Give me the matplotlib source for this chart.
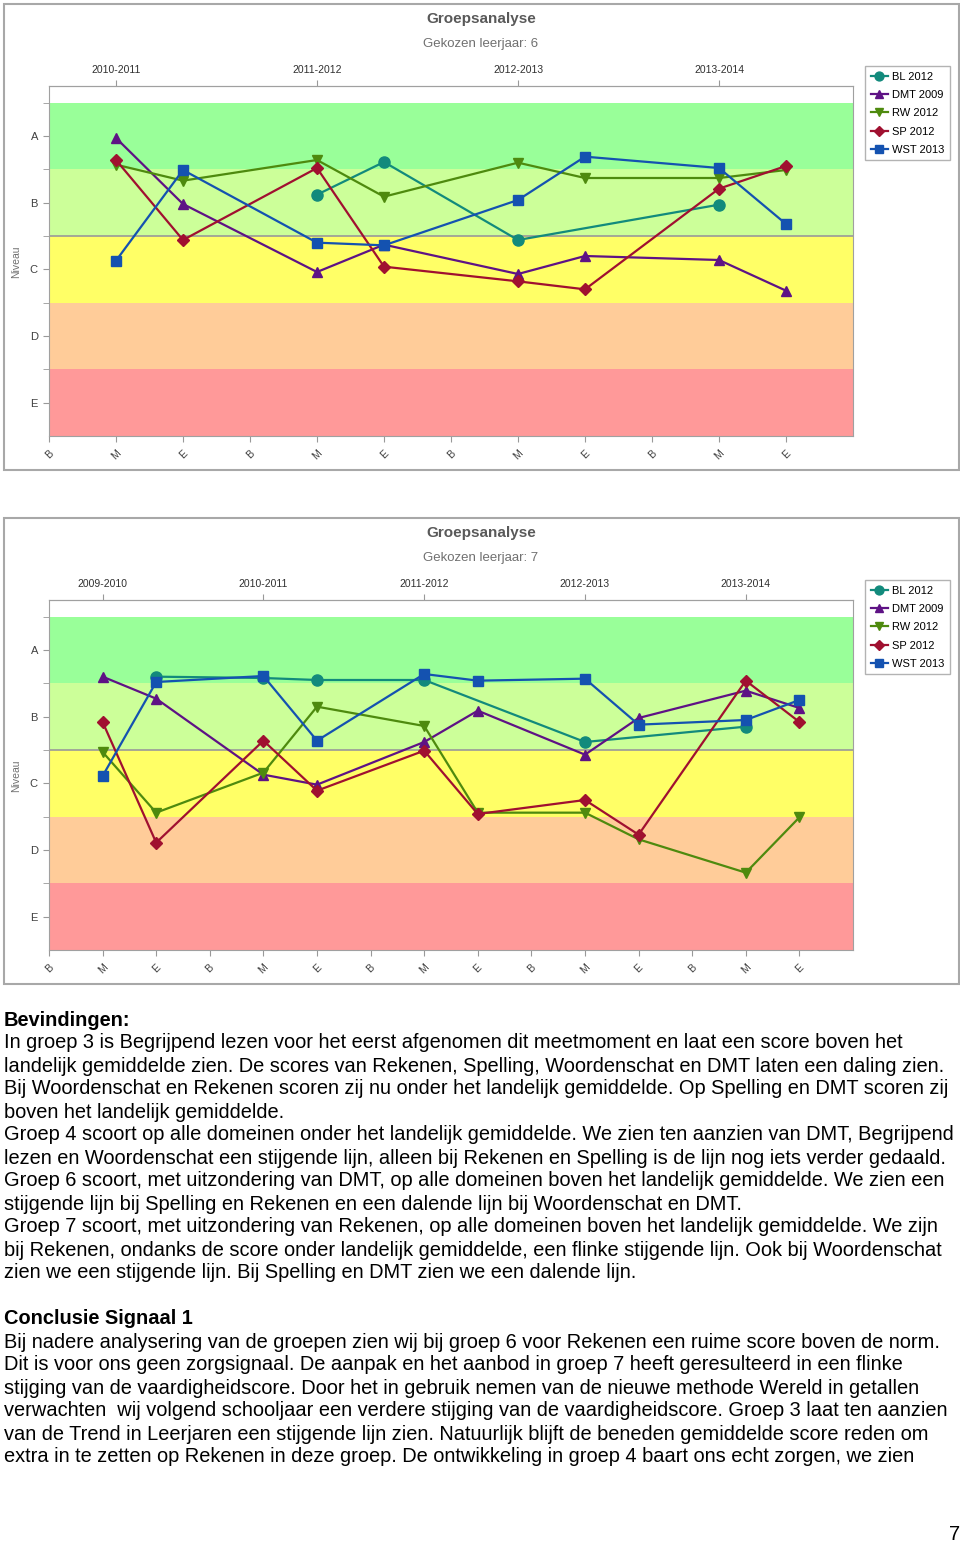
import matplotlib
matplotlib.use('Agg')
import matplotlib.pyplot as plt
from matplotlib.patches import Rectangle

plt.rcParams['font.family'] = ['Liberation Sans', 'DejaVu Sans']

W, H = 960, 1543

# Level bands (E..A) and their colours
levels = ['E', 'D', 'C', 'B', 'A']
band_colors = ['#FF9999', '#FFCC99', '#FFFF66', '#CCFF99', '#99FF99']

series_names = ['BL 2012', 'DMT 2009', 'RW 2012', 'SP 2012', 'WST 2013']
series_colors = ['#128A7C', '#5E1285', '#4E8A0E', '#A01030', '#1452B0']
series_markers = ['o', '^', 'v', 'D', 's']

# Chart 1: leerjaar 6
ticks_6 = ['B', 'M', 'E'] * 4
years_6 = ['2010-2011', '2011-2012', '2012-2013', '2013-2014']
bl_6_x = [4, 5, 7, 10]
bl_6 = [4.12, 4.61, 3.44, 3.97]
all_6_x = [1, 2, 4, 5, 7, 8, 10, 11]
dmt_6 = [4.97, 3.98, 2.96, 3.37, 2.93, 3.20, 3.14, 2.68]
rw_6 = [4.57, 4.33, 4.64, 4.09, 4.60, 4.37, 4.37, 4.49]
sp_6 = [4.64, 3.44, 4.52, 3.04, 2.82, 2.70, 4.21, 4.55]
wst_6 = [3.13, 4.49, 3.40, 3.36, 4.04, 4.69, 4.52, 3.68]

# Chart 2: leerjaar 7
ticks_7 = ['B', 'M', 'E'] * 5
years_7 = ['2009-2010', '2010-2011', '2011-2012', '2012-2013', '2013-2014']
bl_7_x = [2, 4, 5, 7, 10, 13]
bl_7 = [4.60, 4.58, 4.55, 4.55, 3.62, 3.85]
all_7_x = [1, 2, 4, 5, 7, 8, 10, 11, 13, 14]
dmt_7 = [4.60, 4.27, 3.13, 2.98, 3.62, 4.09, 3.43, 3.98, 4.39, 4.13]
rw_7 = [3.47, 2.56, 3.16, 4.15, 3.86, 2.56, 2.56, 2.16, 1.66, 2.49]
sp_7 = [3.92, 2.11, 3.64, 2.89, 3.49, 2.54, 2.75, 2.23, 4.54, 3.92]
wst_7 = [3.11, 4.52, 4.61, 3.64, 4.64, 4.54, 4.57, 3.88, 3.95, 4.25]

bevindingen = [
    'In groep 3 is Begrijpend lezen voor het eerst afgenomen dit meetmoment en laat een score boven het',
    'landelijk gemiddelde zien. De scores van Rekenen, Spelling, Woordenschat en DMT laten een daling zien.',
    'Bij Woordenschat en Rekenen scoren zij nu onder het landelijk gemiddelde. Op Spelling en DMT scoren zij',
    'boven het landelijk gemiddelde.',
    'Groep 4 scoort op alle domeinen onder het landelijk gemiddelde. We zien ten aanzien van DMT, Begrijpend',
    'lezen en Woordenschat een stijgende lijn, alleen bij Rekenen en Spelling is de lijn nog iets verder gedaald.',
    'Groep 6 scoort, met uitzondering van DMT, op alle domeinen boven het landelijk gemiddelde. We zien een',
    'stijgende lijn bij Spelling en Rekenen en een dalende lijn bij Woordenschat en DMT.',
    'Groep 7 scoort, met uitzondering van Rekenen, op alle domeinen boven het landelijk gemiddelde. We zijn',
    'bij Rekenen, ondanks de score onder landelijk gemiddelde, een flinke stijgende lijn. Ook bij Woordenschat',
    'zien we een stijgende lijn. Bij Spelling en DMT zien we een dalende lijn.',
]
conclusie = [
    'Bij nadere analysering van de groepen zien wij bij groep 6 voor Rekenen een ruime score boven de norm.',
    'Dit is voor ons geen zorgsignaal. De aanpak en het aanbod in groep 7 heeft geresulteerd in een flinke',
    'stijging van de vaardigheidscore. Door het in gebruik nemen van de nieuwe methode Wereld in getallen',
    'verwachten  wij volgend schooljaar een verdere stijging van de vaardigheidscore. Groep 3 laat ten aanzien',
    'van de Trend in Leerjaren een stijgende lijn zien. Natuurlijk blijft de beneden gemiddelde score reden om',
    'extra in te zetten op Rekenen in deze groep. De ontwikkeling in groep 4 baart ons echt zorgen, we zien',
]


def fy(py):
    return 1 - py / H


def draw_chart(fig, top, leerjaar, ticks, years, xs_list, ys_list):
    # frame around the whole chart
    fig.patches.append(Rectangle((4 / W, fy(top + 384)), 955 / W, 466 / H,
                                 transform=fig.transFigure, fill=False,
                                 edgecolor='#A8A8A8', linewidth=1.5))
    fig.text(481 / W, fy(top - 67), 'Groepsanalyse', ha='center', va='center',
             fontsize=11, fontweight='bold', color='#595959')
    fig.text(481 / W, fy(top - 42), f'Gekozen leerjaar: {leerjaar}', ha='center',
             va='center', fontsize=9.5, color='#707070')
    fig.text(16 / W, fy(top + 176), 'Niveau', rotation=90, ha='center',
             va='center', fontsize=7.5, color='#707070')

    ax = fig.add_axes([49 / W, fy(top + 350), 804 / W, 350 / H])
    n = len(ticks)
    for i, c in enumerate(band_colors):
        ax.axhspan(i + 0.5, i + 1.5, color=c, lw=0, zorder=0)
    ax.axhline(3.5, color='#999999', lw=1.2, zorder=1)

    for name, color, marker, xs, ys in zip(series_names, series_colors,
                                           series_markers, xs_list, ys_list):
        ms = 8 if marker == 'o' else 6.5
        ax.plot(xs, ys, color=color, marker=marker, markersize=ms, lw=1.6,
                label=name, zorder=3)

    ax.set_xlim(0, n)
    ax.set_ylim(0.5, 5.75)
    ax.set_xticks(range(n))
    ax.set_xticklabels(ticks, rotation=45, fontsize=7.5, color='#404040')
    ax.set_yticks(range(1, 6))
    ax.set_yticklabels(levels, fontsize=8, color='#404040')
    ax.set_yticks([1.5, 2.5, 3.5, 4.5, 5.5], minor=True)
    ax.tick_params(axis='both', which='both', color='#999999', length=4)
    ax.tick_params(axis='y', pad=4)
    ax.tick_params(axis='x', pad=5)
    for s in ax.spines.values():
        s.set_color('#A0A0A0')

    top_ax = ax.secondary_xaxis('top')
    top_ax.set_xticks([1 + 3 * i for i in range(len(years))])
    top_ax.set_xticklabels(years, fontsize=7.5, color='#303030')
    top_ax.tick_params(color='#999999', length=4, pad=4)
    top_ax.spines['top'].set_color('#A0A0A0')

    ax.legend(loc='upper left', bbox_to_anchor=(865 / W, fy(top - 20)),
              bbox_transform=fig.transFigure, fontsize=8, frameon=True,
              fancybox=False, edgecolor='#A0A0A0', handlelength=1.6,
              handletextpad=0.3, borderpad=0.5, labelspacing=0.75,
              borderaxespad=0, markerscale=0.8)
    return ax


fig = plt.figure(figsize=(W / 100, H / 100), dpi=100)

draw_chart(fig, 86, 6, ticks_6, years_6,
           [bl_6_x, all_6_x, all_6_x, all_6_x, all_6_x],
           [bl_6, dmt_6, rw_6, sp_6, wst_6])
draw_chart(fig, 600, 7, ticks_7, years_7,
           [bl_7_x, all_7_x, all_7_x, all_7_x, all_7_x],
           [bl_7, dmt_7, rw_7, sp_7, wst_7])

fs = 14.4
fig.text(4 / W, fy(1020), 'Bevindingen:', fontsize=fs, fontweight='bold', va='center')
for i, line in enumerate(bevindingen):
    fig.text(4 / W, fy(1043 + 23 * i), line, fontsize=fs, va='center')
fig.text(4 / W, fy(1319), 'Conclusie Signaal 1', fontsize=fs, fontweight='bold', va='center')
for i, line in enumerate(conclusie):
    fig.text(4 / W, fy(1342 + 23 * i), line, fontsize=fs, va='center')
fig.text(955 / W, fy(1535), '7', fontsize=fs, ha='center', va='center')

fig.savefig('out.png', dpi=100)
